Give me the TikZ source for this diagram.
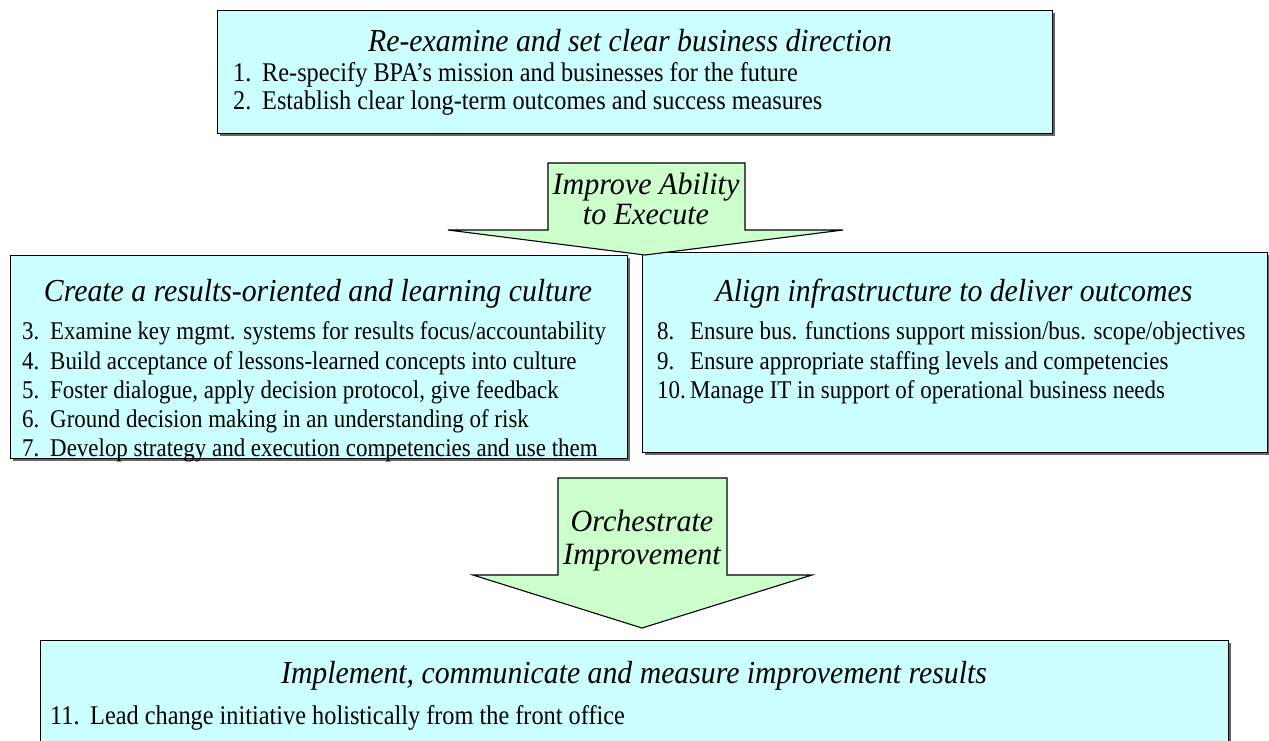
\documentclass[tikz,border=0pt]{standalone}
\usepackage{fontspec}
\setmainfont{Liberation Serif}
\newfontfamily\headfont[FakeStretch=0.93]{Liberation Serif}
\newfontfamily\listfont[FakeStretch=0.9]{Liberation Serif}
\newfontfamily\arrowfont[FakeStretch=0.97]{Liberation Serif}
\usetikzlibrary{shadows}
\definecolor{boxfill}{RGB}{204,255,255}
\definecolor{arrowfill}{RGB}{204,255,204}
\newcommand\numitem[3]{\makebox[#1][l]{#2}#3}
\begin{document}
\begin{tikzpicture}[x=1pt,y=-1pt,
  panel/.style={draw=black, line width=1.3pt, fill=boxfill, anchor=north west, inner sep=0pt,
    drop shadow={shadow xshift=2pt, shadow yshift=-2pt, fill=black!60, opacity=1}},
  chevron/.style={draw=black, line width=1.1pt, fill=arrowfill, line join=miter},
  titletext/.style={font=\headfont\fontsize{32}{34}\selectfont\itshape, inner sep=0pt, anchor=base},
  itemtext/.style={font=\listfont\fontsize{25.5}{28}\selectfont, inner sep=0pt, anchor=base west},
  wideitemtext/.style={font=\listfont\fontsize{27}{28}\selectfont, inner sep=0pt, anchor=base west},
  arrowtext/.style={font=\arrowfont\fontsize{31}{32}\selectfont\itshape, inner sep=0pt, anchor=base},
]
\useasboundingbox (0,0) rectangle (1269,740);

% top panel: business direction
\node[panel, minimum width=835pt, minimum height=123pt] (direction) at (217,10) {};
\node[titletext] (directiontitle) at (630,51) {Re-examine and set clear business direction};
\node[wideitemtext] (i1) at (233,81) {\numitem{29pt}{1.}{Re-specify BPA’s mission and businesses for the future}};
\node[wideitemtext] (i2) at (233,109) {\numitem{29pt}{2.}{Establish clear long-term outcomes and success measures}};

% left panel: culture
\node[panel, minimum width=617pt, minimum height=203pt] (culture) at (10,255) {};
\node[titletext] (culturetitle) at (318,301) {Create a results-oriented and learning culture};
\node[itemtext] (i3) at (22,339) {\numitem{28pt}{3.}{Examine key mgmt. systems for results focus/accountability}};
\node[itemtext] (i4) at (22,369) {\numitem{28pt}{4.}{Build acceptance of lessons-learned concepts into culture}};
\node[itemtext] (i5) at (22,398) {\numitem{28pt}{5.}{Foster dialogue, apply decision protocol, give feedback}};
\node[itemtext] (i6) at (22,427) {\numitem{28pt}{6.}{Ground decision making in an understanding of risk}};
\node[itemtext] (i7) at (22,456) {\numitem{28pt}{7.}{Develop strategy and execution competencies and use them}};

% right panel: infrastructure
\node[panel, minimum width=625pt, minimum height=200pt] (infra) at (642,252) {};
\node[titletext] (infratitle) at (954,301) {Align infrastructure to deliver outcomes};
\node[itemtext] (i8) at (657,339) {\numitem{33pt}{8.}{Ensure bus. functions support mission/bus. scope/objectives}};
\node[itemtext] (i9) at (657,369) {\numitem{33pt}{9.}{Ensure appropriate staffing levels and competencies}};
\node[itemtext] (i10) at (657,398) {\numitem{33pt}{10.}{Manage IT in support of operational business needs}};

% first down arrow
\coordinate (a1tl) at (548,163);
\coordinate (a1tr) at (745,163);
\coordinate (a1sr) at (745,230);
\coordinate (a1wr) at (843,230);
\coordinate (a1tip) at (645,255);
\coordinate (a1wl) at (448,230);
\coordinate (a1sl) at (548,230);
\draw[chevron] (a1tl) -- (a1tr) -- (a1sr) -- (a1wr) -- (a1tip) -- (a1wl) -- (a1sl) -- cycle;
\node[arrowtext] (a1l1) at (646,194) {Improve Ability};
\node[arrowtext] (a1l2) at (646,224) {to Execute};

% second down arrow
\coordinate (a2tl) at (558,478);
\coordinate (a2tr) at (727,478);
\coordinate (a2sr) at (727,575);
\coordinate (a2wr) at (812,575);
\coordinate (a2tip) at (642,628);
\coordinate (a2wl) at (473,575);
\coordinate (a2sl) at (558,575);
\draw[chevron] (a2tl) -- (a2tr) -- (a2sr) -- (a2wr) -- (a2tip) -- (a2wl) -- (a2sl) -- cycle;
\node[arrowtext] (a2l1) at (642,531) {Orchestrate};
\node[arrowtext] (a2l2) at (642,564) {Improvement};

% bottom panel: implementation
\node[panel, minimum width=1188pt, minimum height=160pt] (implement) at (40,640) {};
\node[titletext] (implementtitle) at (634,683) {Implement, communicate and measure improvement results};
\node[wideitemtext] (i11) at (50,724) {\numitem{40pt}{11.}{Lead change initiative holistically from the front office}};
\end{tikzpicture}
\end{document}
